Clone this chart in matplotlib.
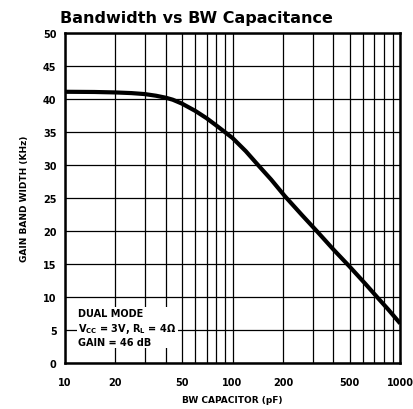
import matplotlib
matplotlib.use("Agg")
import matplotlib.pyplot as plt

# values
cap_pf = [10, 15, 20, 25, 30, 35, 40, 44, 50, 60, 70, 80, 90, 100, 120, 142, 170,
          205, 260, 318, 400, 500, 620, 740, 850, 1000]
gbw_khz = [41.1, 41.07, 41.0, 40.9, 40.75, 40.5, 40.2, 39.9, 39.3, 38.2, 37.1, 36.0, 35.0, 34.1, 32.1, 30.0, 27.8,
           25.3, 22.4, 20.0, 17.2, 14.6, 12.0, 9.8, 8.1, 6.0]

xticks = [10, 20, 50, 100, 200, 500, 1000]
yticks = [0, 5, 10, 15, 20, 25, 30, 35, 40, 45, 50]
xgrid = [10, 20, 30, 40, 50, 60, 70, 80, 90, 100, 200, 300, 400, 500, 600, 700, 800, 900, 1000]

fig = plt.figure(figsize=(4.13, 4.10), dpi=100)
ax = fig.add_axes([0.157, 0.112, 0.812, 0.805])

ax.set_xscale("log")
ax.set_xlim(10, 1000)
ax.set_ylim(0, 50)

for g in xgrid:
    ax.axvline(g, color="black", lw=0.9, zorder=1)
for g in yticks:
    ax.axhline(g, color="black", lw=0.9, zorder=1)

ax.plot(cap_pf, gbw_khz, color="black", lw=3, solid_capstyle="butt",
        solid_joinstyle="round", zorder=3)

ax.set_xticks(xticks)
ax.set_xticklabels([str(v) for v in xticks], fontsize=7, fontweight="bold")
ax.set_xticks([], minor=True)
ax.set_yticks(yticks)
ax.set_yticklabels([str(v) for v in yticks], fontsize=7, fontweight="bold")
ax.tick_params(axis="y", length=0, pad=6)
ax.tick_params(axis="x", length=0, pad=10)

for s in ax.spines.values():
    s.set_linewidth(1.8)

ax.set_xlabel("BW CAPACITOR (pF)", fontsize=6.5, fontweight="bold", labelpad=6)
ax.set_ylabel("GAIN BAND WIDTH (KHz)", fontsize=6.5, fontweight="bold", labelpad=10)

ax.text(12.0, 8.3, "DUAL MODE\n$\\mathbf{V_{CC}}$ = 3V, $\\mathbf{R_L}$ = 4Ω\nGAIN = 46 dB",
        fontsize=7, fontweight="bold", va="top", ha="left", linespacing=1.25,
        bbox=dict(facecolor="white", edgecolor="none", pad=1), zorder=4)

fig.text(0.475, 0.955, "Bandwidth vs BW Capacitance", ha="center", va="center",
         fontsize=11.5, fontweight="bold")

fig.savefig("out.png", dpi=100)
